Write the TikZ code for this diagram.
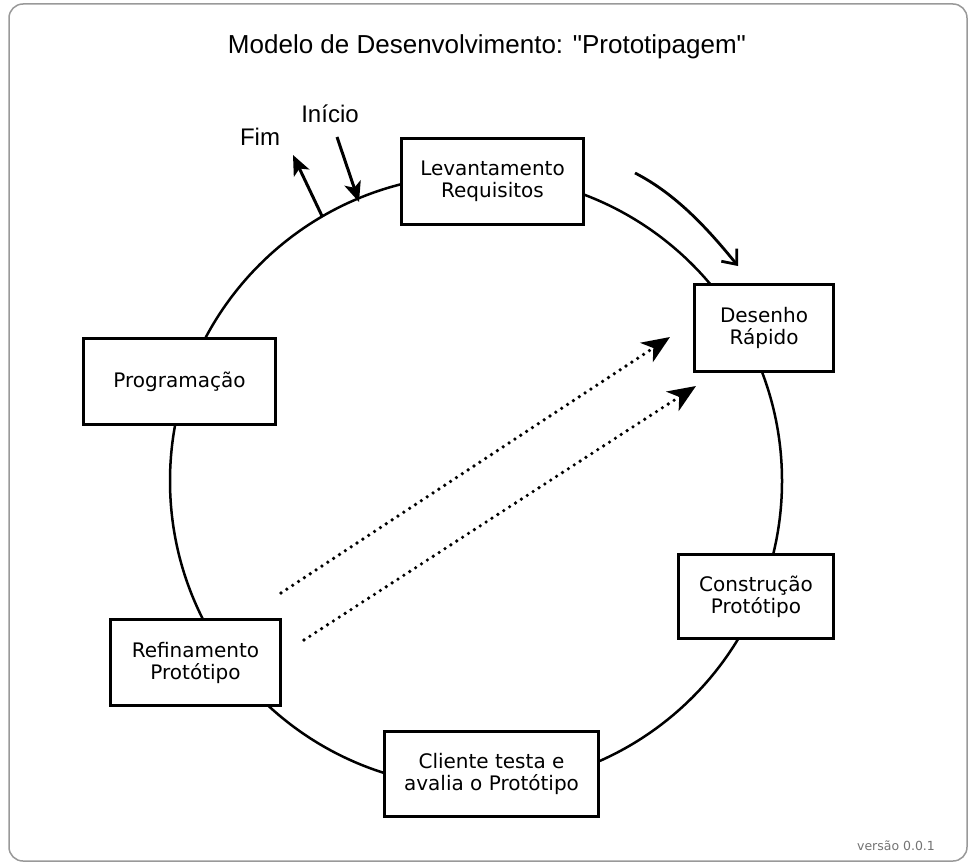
\documentclass[tikz,border=0pt]{standalone}
\usepackage{fontspec}
\setmainfont{Liberation Sans}
\newfontfamily\titlefont{Liberation Sans}[Ligatures=TeXOff]
\newfontfamily\boxfont{DejaVu Sans}
\usetikzlibrary{arrows.meta}
\begin{document}
\begin{tikzpicture}[x=1pt,y=-1pt,
  stage/.style={draw=black, line width=3.6pt, fill=white, align=center,
    font=\boxfont\fontsize{20}{22}\selectfont, inner sep=0pt},
  ring/.style={line width=2.5pt},
  pointer/.style={line width=3pt, -{Stealth[length=20pt,width=17pt,inset=5pt]}},
  dotarrow/.style={line width=3.6pt, line cap=round, dash pattern=on 0pt off 7pt,
    -{Stealth[length=28pt,width=23pt,inset=8pt,line cap=butt,sep=0pt]}},
  bendarrow/.style={line width=2.8pt, -{Straight Barb[length=12pt,width=20pt]}},
  label/.style={font=\fontsize{24}{28}\selectfont, inner sep=0pt},
  frame/.style={draw=black!40, line width=1.5pt, rounded corners=14pt}
]
\useasboundingbox (0,0) rectangle (973,867);
\draw[frame] (9,4) rectangle (967,861);

\node[font=\titlefont\fontsize{26}{30}\selectfont] (title) at (487,47) {Modelo de Desenvolvimento: "Prototipagem"};

\coordinate (center) at (476,481);
\draw[ring] (center) circle[radius=306];

\node[stage, minimum width=182pt, minimum height=86pt] (lev) at (492.5,181.5) {Levantamento\\Requisitos};
\node[stage, minimum width=139pt, minimum height=87pt] (des) at (764,328) {Desenho\\Rápido};
\node[stage, minimum width=192pt, minimum height=86pt] (prog) at (179.5,381.5) {Programação};
\node[stage, minimum width=170pt, minimum height=86pt] (ref) at (195.5,662.5) {Refinamento\\Protótipo};
\node[stage, minimum width=214pt, minimum height=85pt] (cli) at (491.5,774) {Cliente testa e\\avalia o Protótipo};
\node[stage, minimum width=155pt, minimum height=84pt] (con) at (756,596.5) {Construção\\Protótipo};

\node[label] (fim) at (260,137) {Fim};
\node[label] (inicio) at (330,114) {Início};

\coordinate (fimfrom) at (322,216);
\coordinate (fimto) at (293,155);
\coordinate (inifrom) at (337,137);
\coordinate (inito) at (359,202);
\draw[pointer] (fimfrom) -- (fimto);
\draw[pointer] (inifrom) -- (inito);

\coordinate (bendfrom) at (635,173);
\coordinate (bendto) at (738,266);
\draw[bendarrow] (bendfrom) .. controls (676,194) and (708,229) .. (bendto);

\coordinate (d1from) at (281,593);
\coordinate (d1to) at (670,337);
\coordinate (d2from) at (304,640);
\coordinate (d2to) at (696,386);
\draw[dotarrow] (d1from) -- (d1to);
\draw[dotarrow] (d2from) -- (d2to);

\node[font=\boxfont\fontsize{12.5}{14}\selectfont, text=black!55] (ver) at (896,846) {versão 0.0.1};
\end{tikzpicture}
\end{document}
